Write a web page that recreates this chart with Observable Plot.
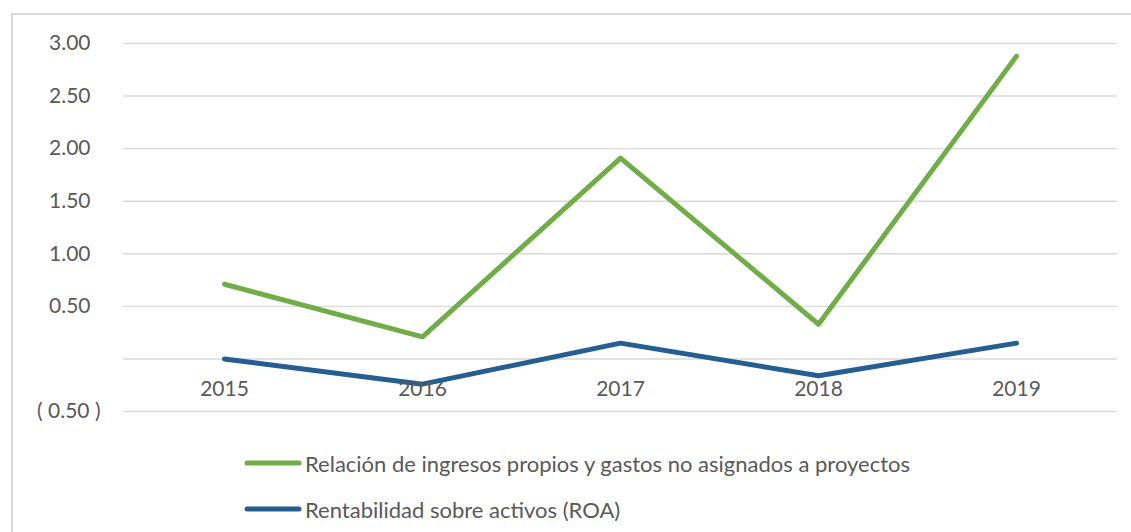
<!DOCTYPE html>
<html>
<head>
<meta charset="utf-8">
<script src="https://cdn.jsdelivr.net/npm/d3@7"></script>
<script src="https://cdn.jsdelivr.net/npm/@observablehq/plot@0.6"></script>
<style>
  html, body { margin: 0; padding: 0; background: #fff; width: 1131px; height: 532px; overflow: hidden; }
  #frame { position: absolute; left: 11px; top: 13px; width: 1200px; height: 600px; border: 2px solid #d9d9d9; box-sizing: border-box; }
  #chart { position: absolute; left: 0; top: 0; }
  #legend { position: absolute; left: 244px; top: 446px; font-family: Lato, sans-serif; font-size: 22px; color: #595959; }
  .row { display: flex; align-items: center; height: 34px; margin-bottom: 12px; }
  .row svg { margin-right: 3px; }
</style>
</head>
<body>
<div id="frame"></div>
<div id="chart"></div>
<div id="legend"></div>
<script>
const years = ["2015", "2016", "2017", "2018", "2019"];
const relacion = [0.71, 0.21, 1.91, 0.33, 2.88];
const roa = [0.00, -0.24, 0.15, -0.16, 0.15];
const yTicks = [-0.5, 0, 0.5, 1, 1.5, 2, 2.5, 3];
const seriesNames = ["Relación de ingresos propios y gastos no asignados a proyectos", "Rentabilidad sobre activos (ROA)"];
const seriesColors = ["#70AD47", "#255E91"];

const data = [
  ...years.map((y, i) => ({year: y, value: relacion[i], series: seriesNames[0]})),
  ...years.map((y, i) => ({year: y, value: roa[i], series: seriesNames[1]}))
];
const fmt = v => v < 0 ? `( ${Math.abs(v).toFixed(2)} )` : v.toFixed(2);

const chart = Plot.plot({
  width: 1131,
  height: 440,
  marginLeft: 123,
  marginRight: 14,
  marginTop: 43,
  marginBottom: 29,
  x: {type: "point", domain: years, padding: 0.5, axis: null},
  y: {domain: [-0.5, 3], axis: null},
  color: {domain: seriesNames, range: seriesColors},
  style: {fontFamily: "Lato, sans-serif", fontSize: "21px", color: "#595959", background: "transparent"},
  marks: [
    Plot.ruleY(yTicks, {stroke: "#d9d9d9", strokeWidth: 1.4}),
    Plot.line(data, {x: "year", y: "value", z: "series", stroke: "series", strokeWidth: 5, strokeLinecap: "round", strokeLinejoin: "round"}),
    Plot.text(years, {x: d => d, y: () => 0, dy: 30, text: d => d, fill: "#595959", lineAnchor: "middle"}),
    Plot.text(yTicks.filter(v => v > 0), {y: d => d, frameAnchor: "left", dx: -33, text: fmt, textAnchor: "end", fill: "#595959", lineAnchor: "middle"}),
    Plot.text(yTicks.filter(v => v < 0), {y: d => d, frameAnchor: "left", dx: -23, text: fmt, textAnchor: "end", fill: "#595959", lineAnchor: "middle"})
  ]
});
document.getElementById("chart").appendChild(chart);

const legend = document.getElementById("legend");
seriesNames.forEach((name, i) => {
  const row = document.createElement("div");
  row.className = "row";
  row.innerHTML = `<svg width="58" height="10"><line x1="3" y1="5" x2="55" y2="5" stroke="${seriesColors[i]}" stroke-width="5" stroke-linecap="round"/></svg><span>${name}</span>`;
  legend.appendChild(row);
});
</script>
</body>
</html>
